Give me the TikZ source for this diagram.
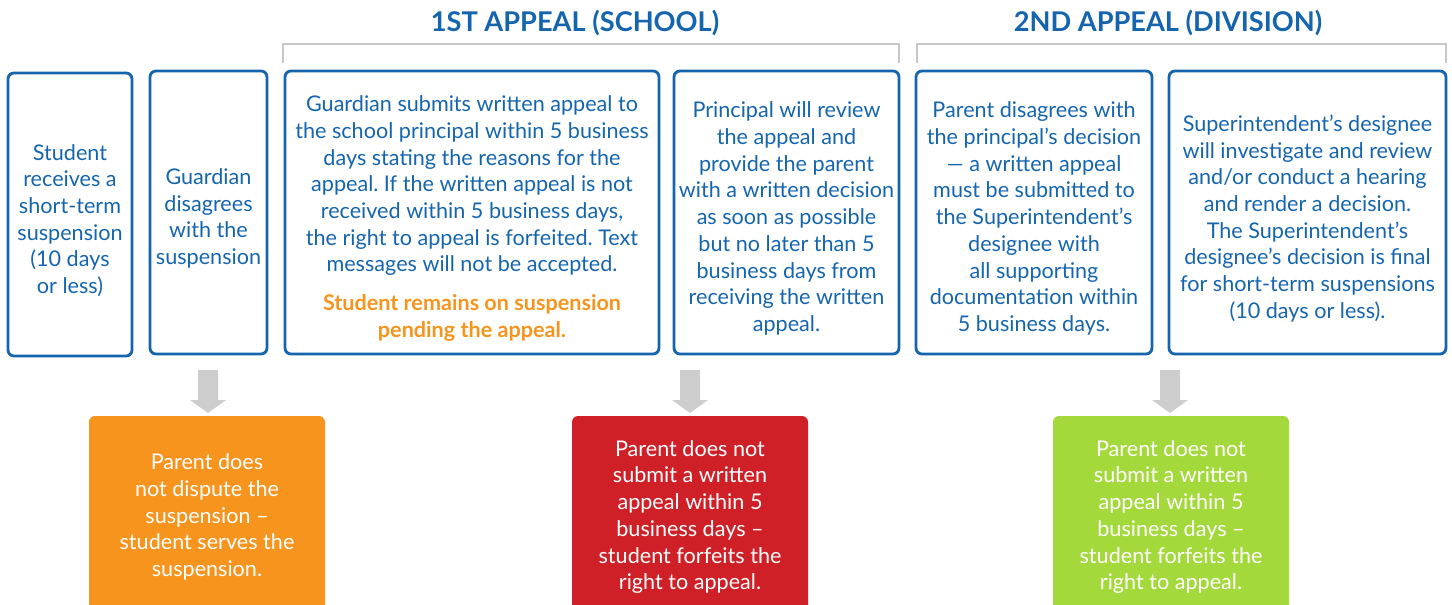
\documentclass[tikz,border=0pt]{standalone}
\usepackage{fontspec}
\setmainfont{Lato}
\frenchspacing
\definecolor{myblue}{HTML}{1565AE}
\definecolor{myorange}{HTML}{F7941D}
\definecolor{myred}{HTML}{D02027}
\definecolor{mygreen}{HTML}{A4D93B}
\definecolor{arrgray}{HTML}{CDCDCD}
\definecolor{brgray}{HTML}{C8C8C8}
\begin{document}
\begin{tikzpicture}[x=0.5pt,y=-0.5pt,
  bluebox/.style={draw=myblue, line width=1.4pt, rounded corners=3pt, inner sep=0pt},
  bluetext/.style={text=myblue, align=center, inner sep=0pt, font=\fontsize{10.8pt}{13.35pt}\selectfont},
  fillbox/.style={fill=#1, rounded corners=3pt, inner sep=0pt, minimum width=118pt, minimum height=98pt},
  whitetext/.style={text=white, align=center, inner sep=0pt, font=\fontsize{10.8pt}{13.35pt}\selectfont},
  header/.style={text=myblue, font=\fontsize{13.6pt}{16pt}\selectfont\bfseries},
  bracket/.style={draw=brgray, line width=1.4pt},
  grayarrow/.style={fill=arrgray}
]
\useasboundingbox (0,0) rectangle (1452,605);
\clip (0,0) rectangle (1452,605);

% headers
\node[header] (h1) at (575,23) {1ST APPEAL (SCHOOL)};
\node[header] (h2) at (1168,23) {2ND APPEAL (DIVISION)};

% brackets
\coordinate (br1a) at (283,63);
\coordinate (br1b) at (899,63);
\coordinate (br2a) at (917,63);
\coordinate (br2b) at (1446,63);
\draw[bracket] (br1a) -- ++(0,-19) -| (br1b);
\draw[bracket] (br2a) -- ++(0,-19) -| (br2b);

% top boxes
\node[bluebox, minimum width=62pt, minimum height=141.5pt] (b1) at (70,214.5) {};
\node[bluebox, minimum width=58.5pt, minimum height=141.5pt] (b2) at (208.5,212.5) {};
\node[bluebox, minimum width=187pt, minimum height=141.5pt] (b3) at (472,212.5) {};
\node[bluebox, minimum width=112.5pt, minimum height=141.5pt] (b4) at (786.5,212.5) {};
\node[bluebox, minimum width=118pt, minimum height=141.5pt] (b5) at (1034,212.5) {};
\node[bluebox, minimum width=138.5pt, minimum height=141.5pt] (b6) at (1307.5,212.5) {};

\node[bluetext] (t1) at ([yshift=-3pt]b1.center)
  {Student\\receives a\\short-term\\suspension\\(10 days\\or less)};
\node[bluetext] (t2) at ([yshift=-3pt]b2.center)
  {Guardian\\disagrees\\with the\\suspension};
\node[bluetext] (t3) at ([yshift=-3pt]b3.center)
  {Guardian submits written appeal to\\the school principal within 5 business\\days stating the reasons for the\\appeal. If the written appeal is not\\received within 5 business days,\\the right to appeal is forfeited. Text\\messages will not be accepted.\\[6pt]
   \textcolor{myorange}{\bfseries Student remains on suspension}\\\textcolor{myorange}{\bfseries pending the appeal.}};
\node[bluetext] (t4) at ([yshift=-3pt]b4.center)
  {Principal will review\\the appeal and\\provide the parent\\with a written decision\\as soon as possible\\but no later than 5\\business days from\\receiving the written\\appeal.};
\node[bluetext] (t5) at ([yshift=-3pt]b5.center)
  {Parent disagrees with\\the principal's decision\\— a written appeal\\must be submitted to\\the Superintendent's\\designee with\\all supporting\\documentation within\\5 business days.};
\node[bluetext] (t6) at ([yshift=-3pt]b6.center)
  {Superintendent's designee\\will investigate and review\\and/or conduct a hearing\\and render a decision.\\The Superintendent's\\designee's decision is final\\for short-term suspensions\\(10 days or less).};

% bottom boxes
\node[fillbox=myorange] (o) at (207,514) {};
\node[fillbox=myred] (r) at (690,514) {};
\node[fillbox=mygreen] (g) at (1171,514) {};
\node[whitetext] (ot) at ([yshift=-1.5pt]o.center)
  {Parent does\\not dispute the\\suspension –\\student serves the\\suspension.};
\node[whitetext] (rt) at ([yshift=-1.5pt]r.center)
  {Parent does not\\submit a written\\appeal within 5\\business days –\\student forfeits the\\right to appeal.};
\node[whitetext] (gt) at ([yshift=-1.5pt]g.center)
  {Parent does not\\submit a written\\appeal within 5\\business days –\\student forfeits the\\right to appeal.};

% gray arrows
\foreach \n/\ax in {a1/208, a2/690, a3/1170}{
  \coordinate (\n) at (\ax,370);
  \fill[grayarrow] (\n) ++(-10,0) -- ++(20,0) -- ++(0,30) -- ++(8,0) -- ++(-18,13) -- ++(-18,-13) -- ++(8,0) -- cycle;
}
\end{tikzpicture}
\end{document}
